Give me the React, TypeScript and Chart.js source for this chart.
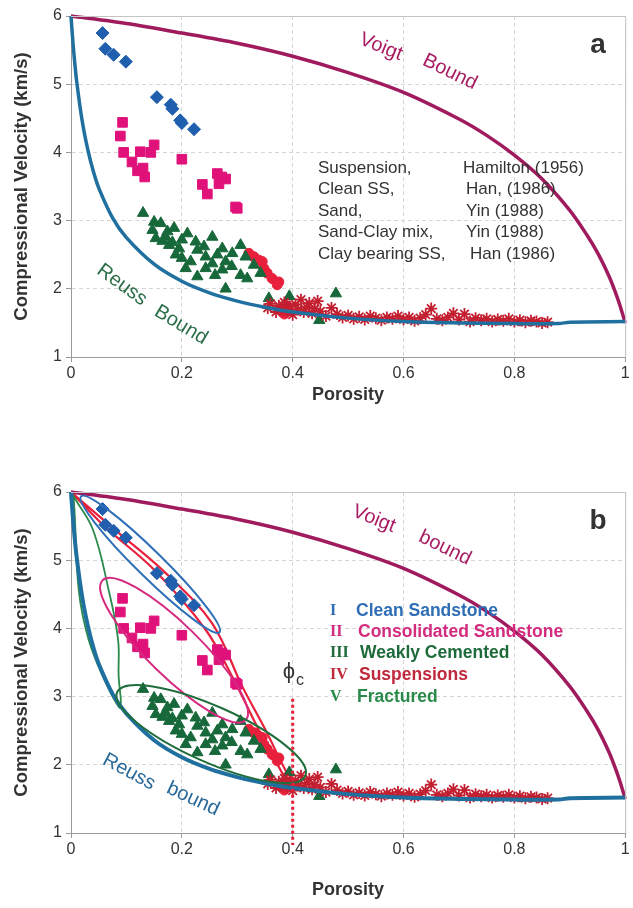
import React, { useEffect, useRef } from "react";
import { Chart, registerables } from "chart.js";
Chart.register(...registerables);

// ---------- data ----------
const xTickValues = [0, 0.2, 0.4, 0.6, 0.8, 1];
const yTickValues = [1, 2, 3, 4, 5, 6];

const voigtPhi = [0, 0.1, 0.2, 0.3, 0.4, 0.5, 0.6, 0.7, 0.75, 0.8, 0.85, 0.9, 0.93, 0.95, 0.97, 0.98, 0.99, 1];
const voigtV = [6.0, 5.89, 5.75, 5.6, 5.41, 5.17, 4.88, 4.49, 4.25, 3.96, 3.61, 3.15, 2.8, 2.53, 2.2, 2.0, 1.77, 1.5];

const reussPhi = [0, 0.0025, 0.005, 0.01, 0.02, 0.03, 0.04, 0.05, 0.075, 0.1, 0.15, 0.2, 0.25, 0.3, 0.35, 0.4, 0.5, 0.6, 0.7, 0.8, 0.88, 0.9, 1];
const reussV = [6.0, 5.72, 5.47, 5.06, 4.47, 4.05, 3.73, 3.48, 3.04, 2.75, 2.36, 2.11, 1.94, 1.82, 1.73, 1.66, 1.57, 1.52, 1.5, 1.49, 1.49, 1.51, 1.52];

// Clean SS, Han (1986)
const cleanPhi = [0.057, 0.062, 0.077, 0.099, 0.155, 0.18, 0.183, 0.197, 0.2, 0.222];
const cleanV = [5.75, 5.52, 5.43, 5.33, 4.81, 4.7, 4.64, 4.47, 4.43, 4.34];

// Clay bearing SS, Han (1986)
const clayPhi = [0.093, 0.089, 0.095, 0.125, 0.15, 0.144, 0.11, 0.12, 0.13, 0.133, 0.2, 0.237, 0.246, 0.264, 0.279, 0.267, 0.297, 0.3, 0.272];
const clayV = [4.44, 4.24, 4.0, 4.01, 4.11, 4.0, 3.86, 3.73, 3.77, 3.64, 3.9, 3.53, 3.39, 3.69, 3.61, 3.54, 3.2, 3.18, 3.64];

// Sand, Yin (1988)
const sandPhi = [0.13, 0.15, 0.162, 0.147, 0.186, 0.153, 0.171, 0.21, 0.255, 0.177, 0.195, 0.225, 0.228, 0.2, 0.216, 0.243, 0.264, 0.279, 0.306, 0.315, 0.207, 0.243, 0.228, 0.273, 0.306, 0.318, 0.342, 0.279, 0.357, 0.189, 0.174, 0.2, 0.273, 0.291, 0.255, 0.394, 0.478, 0.448, 0.165, 0.183, 0.24, 0.26, 0.29, 0.33];
const sandV = [3.11, 2.98, 2.96, 2.86, 2.89, 2.74, 2.76, 2.81, 2.76, 2.64, 2.59, 2.69, 2.57, 2.45, 2.4, 2.47, 2.5, 2.4, 2.64, 2.47, 2.3, 2.3, 2.18, 2.28, 2.2, 2.15, 2.23, 2.0, 1.86, 2.5, 2.84, 2.72, 2.59, 2.52, 2.37, 1.89, 1.93, 1.54, 2.7, 2.68, 2.62, 2.2, 2.33, 2.35];

// Sand-Clay mix, Yin (1988)
const mixPhi = [0.321, 0.33, 0.339, 0.348, 0.354, 0.363, 0.372, 0.385, 0.375, 0.345, 0.39, 0.392];
const mixV = [2.52, 2.47, 2.42, 2.3, 2.23, 2.15, 2.06, 1.63, 2.1, 2.4, 1.75, 1.68];

// Suspension, Hamilton (1956)
const suspPhi = [0.355, 0.36, 0.37, 0.375, 0.38, 0.385, 0.39, 0.395, 0.4, 0.405, 0.41, 0.415, 0.42, 0.425, 0.43, 0.435, 0.44, 0.445, 0.45, 0.46, 0.47, 0.48, 0.49, 0.5, 0.51, 0.52, 0.53, 0.54, 0.55, 0.56, 0.57, 0.58, 0.59, 0.6, 0.61, 0.62, 0.63, 0.64, 0.65, 0.66, 0.67, 0.68, 0.69, 0.7, 0.71, 0.72, 0.73, 0.74, 0.75, 0.76, 0.77, 0.78, 0.79, 0.8, 0.81, 0.82, 0.83, 0.84, 0.85, 0.86];
const suspV = [1.72, 1.78, 1.66, 1.75, 1.7, 1.8, 1.68, 1.74, 1.62, 1.77, 1.7, 1.84, 1.66, 1.73, 1.79, 1.64, 1.71, 1.82, 1.67, 1.6, 1.72, 1.63, 1.58, 1.61, 1.56, 1.59, 1.55, 1.6, 1.57, 1.54, 1.58, 1.56, 1.6, 1.55, 1.58, 1.53, 1.57, 1.62, 1.71, 1.56, 1.54, 1.58, 1.64, 1.55, 1.63, 1.52, 1.57, 1.54, 1.56, 1.52, 1.55, 1.53, 1.56, 1.52, 1.54, 1.51, 1.53, 1.52, 1.5, 1.51];

// panel b outlines (drawn shapes)
const redLoopPhi = [0.0, 0.08, 0.171, 0.255, 0.309, 0.351, 0.387, 0.399, 0.395, 0.375, 0.339, 0.291, 0.243, 0.15, 0.06, 0.0];
const redLoopV = [6.0, 5.44, 4.81, 4.07, 3.15, 2.51, 1.92, 1.78, 1.7, 1.97, 2.51, 3.29, 3.98, 4.86, 5.5, 6.0];
const greenLoopPhi = [0.0, 0.009, 0.04, 0.068, 0.085, 0.086, 0.09, 0.087, 0.063, 0.032, 0.014, 0.005, 0.0];
const greenLoopV = [6.0, 5.88, 5.44, 4.56, 3.83, 3.29, 2.91, 2.84, 3.2, 3.83, 4.56, 5.88, 6.0];

// ---------- styling ----------
const FONT = "'Liberation Sans', Arial, Helvetica, sans-serif";
const SERIF = "'Liberation Serif', 'Times New Roman', serif";
const C_VOIGT = "#a01a5e";
const C_REUSS = "#1f6f9f";

const pts = (xs: number[], ys: number[]) => xs.map((x, i) => ({ x, y: ys[i] }));

function drawRot(ctx: CanvasRenderingContext2D, text: string, x: number, y: number, deg: number, font: string, color: string) {
  ctx.save();
  ctx.translate(x, y);
  ctx.rotate((deg * Math.PI) / 180);
  ctx.font = font;
  ctx.fillStyle = color;
  ctx.textAlign = "center";
  ctx.textBaseline = "middle";
  ctx.fillText(text, 0, 0);
  ctx.restore();
}

function makeChart(canvas: HTMLCanvasElement, panel: "a" | "b") {
  const isB = panel === "b";
  const off = isB ? 454 : 0;
  const padTop = isB ? 38 : 16;
  const xAxisH = isB ? 75 : 97;
  const xTitleY = isB ? 890 - off : 395;

  const datasets: any[] = [
    { data: pts(reussPhi, reussV), showLine: true, borderColor: C_REUSS, borderWidth: isB ? 4 : 3.5, pointRadius: 0, tension: 0.3, clip: false },
    { data: pts(voigtPhi, voigtV), showLine: true, borderColor: C_VOIGT, borderWidth: 3.5, pointRadius: 0, tension: 0.3, clip: false },
    { data: pts(suspPhi, suspV), pointStyle: "star", pointRadius: 6, borderColor: "#c21f30", backgroundColor: "#c21f30", borderWidth: 1.8, clip: false },
    { data: pts(sandPhi, sandV), pointStyle: "triangle", pointRadius: 6.5, borderColor: "#17683a", backgroundColor: "#17683a", borderWidth: 1, clip: false },
    { data: pts(clayPhi, clayV), pointStyle: "rect", pointRadius: 6.8, borderColor: "#e0127a", backgroundColor: "#e0127a", borderWidth: 1, clip: false },
    { data: pts(cleanPhi, cleanV), pointStyle: "rectRot", pointRadius: 6.5, borderColor: "#1f5fae", backgroundColor: "#1f5fae", borderWidth: 1, clip: false },
    { data: pts(mixPhi, mixV), pointStyle: "circle", pointRadius: 5, borderColor: "#e8203c", backgroundColor: "#e8203c", borderWidth: 1, clip: false },
  ];
  if (isB) {
    datasets.push(
      { data: pts(greenLoopPhi, greenLoopV), showLine: true, borderColor: "#2a8a4a", borderWidth: 1.8, pointRadius: 0, tension: 0.4, clip: false },
      { data: pts(redLoopPhi, redLoopV), showLine: true, borderColor: "#e8203c", borderWidth: 2.2, pointRadius: 0, tension: 0.35, clip: false }
    );
  }

  const annot = {
    id: "annot" + panel,
    afterDatasetsDraw(chart: any) {
      const ctx: CanvasRenderingContext2D = chart.ctx;
      const xs = chart.scales.x;
      const ys = chart.scales.y;
      const ca = chart.chartArea;
      ctx.save();
      ctx.strokeStyle = "#c4c4c4";
      ctx.lineWidth = 1;
      ctx.beginPath();
      ctx.moveTo(ca.left, ca.top + 0.5);
      ctx.lineTo(ca.right + 0.5, ca.top + 0.5);
      ctx.lineTo(ca.right + 0.5, ca.bottom);
      ctx.stroke();
      ctx.restore();
      if (isB) {
        const ell = (phi: number, v: number, a: number, b: number, deg: number, color: string, w: number) => {
          ctx.save();
          ctx.strokeStyle = color;
          ctx.lineWidth = w;
          ctx.beginPath();
          ctx.ellipse(xs.getPixelForValue(phi), ys.getPixelForValue(v), a, b, (deg * Math.PI) / 180, 0, Math.PI * 2);
          ctx.stroke();
          ctx.restore();
        };
        ell(0.143, 4.94, 97, 13, 44.5, "#2f6fb8", 2);
        ell(0.186, 3.68, 100, 26, 44.3, "#d62a80", 2);
        ell(0.253, 2.45, 103, 28, 24, "#1f6e3c", 2);
        ctx.save();
        ctx.strokeStyle = "#e4203a";
        ctx.lineWidth = 3;
        ctx.setLineDash([3, 3]);
        const px = xs.getPixelForValue(0.4);
        ctx.beginPath();
        ctx.moveTo(px, ys.getPixelForValue(2.97));
        ctx.lineTo(px, ca.bottom + 12);
        ctx.stroke();
        ctx.restore();
      }
    },
    afterDraw(chart: any) {
      const ctx: CanvasRenderingContext2D = chart.ctx;
      const ca = chart.chartArea;
      ctx.save();
      ctx.fillStyle = "#333";
      ctx.font = `bold 18px ${FONT}`;
      ctx.textAlign = "center";
      ctx.textBaseline = "middle";
      ctx.fillText("Porosity", (ca.left + ca.right) / 2, xTitleY);
      ctx.restore();
      drawRot(ctx, "Compressional Velocity (km/s)", 22, (ca.top + ca.bottom) / 2, -90, `bold 18.5px ${FONT}`, "#333");

      const boundFont = `20px ${FONT}`;
      if (!isB) {
        drawRot(ctx, "Voigt", 381, 47, 22, boundFont, "#a81d62");
        drawRot(ctx, "Bound", 450, 72, 26, boundFont, "#a81d62");
        drawRot(ctx, "Reuss", 122, 285, 36, boundFont, "#2b6e48");
        drawRot(ctx, "Bound", 181, 325, 31, boundFont, "#2b6e48");
        drawRot(ctx, "a", 598, 45, 0, `bold 28px ${FONT}`, "#333");
        const left = ["Suspension,", "Clean SS,", "Sand,", "Sand-Clay mix,", "Clay bearing SS,"];
        const right = ["Hamilton (1956)", "Han, (1986)", "Yin (1988)", "Yin (1988)", "Han (1986)"];
        const rx = [463, 466, 466, 466, 470];
        const ry = [168, 189.5, 211, 232.5, 254];
        ctx.save();
        ctx.font = `17px ${FONT}`;
        ctx.fillStyle = "#333";
        ctx.textAlign = "left";
        ctx.textBaseline = "middle";
        for (let i = 0; i < 5; i++) {
          ctx.fillText(left[i], 318, ry[i]);
          ctx.fillText(right[i], rx[i], ry[i]);
        }
        ctx.restore();
      } else {
        drawRot(ctx, "Voigt", 374, 519 - off, 22, boundFont, "#a81d62");
        drawRot(ctx, "bound", 445, 548 - off, 26, boundFont, "#a81d62");
        drawRot(ctx, "Reuss", 129, 772 - off, 28, boundFont, "#2a6a9a");
        drawRot(ctx, "bound", 193, 799 - off, 25, boundFont, "#2a6a9a");
        drawRot(ctx, "b", 598, 521 - off, 0, `bold 28px ${FONT}`, "#333");
        ctx.save();
        ctx.fillStyle = "#333";
        ctx.textAlign = "center";
        ctx.textBaseline = "middle";
        ctx.font = `22px ${FONT}`;
        ctx.fillText("ϕ", 289, 672 - off);
        ctx.font = `16px ${FONT}`;
        ctx.fillText("c", 300, 681 - off);
        ctx.restore();
        const nums = ["I", "II", "III", "IV", "V"];
        const labels = ["Clean Sandstone", "Consolidated Sandstone", "Weakly Cemented", "Suspensions", "Fractured"];
        const cols = ["#2f6db5", "#d42b7e", "#1f6a3a", "#c0283c", "#2a8a4a"];
        const ly = [611, 632, 653, 675, 697];
        const lx = [356, 358, 360, 359, 357];
        ctx.save();
        ctx.textAlign = "left";
        ctx.textBaseline = "middle";
        for (let i = 0; i < 5; i++) {
          ctx.fillStyle = cols[i];
          ctx.font = `bold 16px ${SERIF}`;
          ctx.fillText(nums[i], 330, ly[i] - off);
          ctx.font = `bold 17.5px ${FONT}`;
          ctx.fillText(labels[i], lx[i], ly[i] - off);
        }
        ctx.restore();
      }
    },
  };

  return new Chart(canvas, {
    type: "scatter",
    data: { datasets },
    options: {
      animation: false,
      responsive: false,
      events: [],
      layout: { padding: { top: padTop, right: 6, left: 0, bottom: 0 } },
      plugins: { legend: { display: false }, tooltip: { enabled: false } },
      scales: {
        x: {
          type: "linear",
          min: 0,
          max: 1,
          afterFit: (s: any) => { s.height = xAxisH; },
          afterBuildTicks: (s: any) => { s.ticks = xTickValues.map((v) => ({ value: v })); },
          ticks: { color: "#333", font: { family: FONT, size: 16 }, padding: 2, maxRotation: 0, callback: (v: any) => String(v) },
          grid: { color: "#d6d6d6", tickColor: "#9a9a9a", tickLength: 5, drawTicks: true },
          border: { color: "#9a9a9a", width: 1, dash: [4, 3] },
        },
        y: {
          type: "linear",
          min: 1,
          max: 6,
          afterFit: (s: any) => { s.width = 71; },
          afterBuildTicks: (s: any) => { s.ticks = yTickValues.map((v) => ({ value: v })); },
          ticks: { color: "#333", font: { family: FONT, size: 16 }, padding: 4, callback: (v: any) => String(v) },
          grid: { color: "#d6d6d6", tickColor: "#9a9a9a", tickLength: 5, drawTicks: true },
          border: { color: "#9a9a9a", width: 1, dash: [4, 3] },
        },
      },
    },
    plugins: [annot],
  } as any);
}

export default function App() {
  const refA = useRef<HTMLCanvasElement>(null);
  const refB = useRef<HTMLCanvasElement>(null);
  useEffect(() => {
    document.body.style.margin = "0";
    const a = makeChart(refA.current as HTMLCanvasElement, "a");
    const b = makeChart(refB.current as HTMLCanvasElement, "b");
    return () => { a.destroy(); b.destroy(); };
  }, []);
  return (
    <div style={{ position: "absolute", left: 0, top: 0, width: 633, height: 908, background: "#fff" }}>
      <canvas ref={refA} width={633} height={454} style={{ position: "absolute", left: 0, top: 0, width: 633, height: 454 }} />
      <canvas ref={refB} width={633} height={454} style={{ position: "absolute", left: 0, top: 454, width: 633, height: 454 }} />
    </div>
  );
}
